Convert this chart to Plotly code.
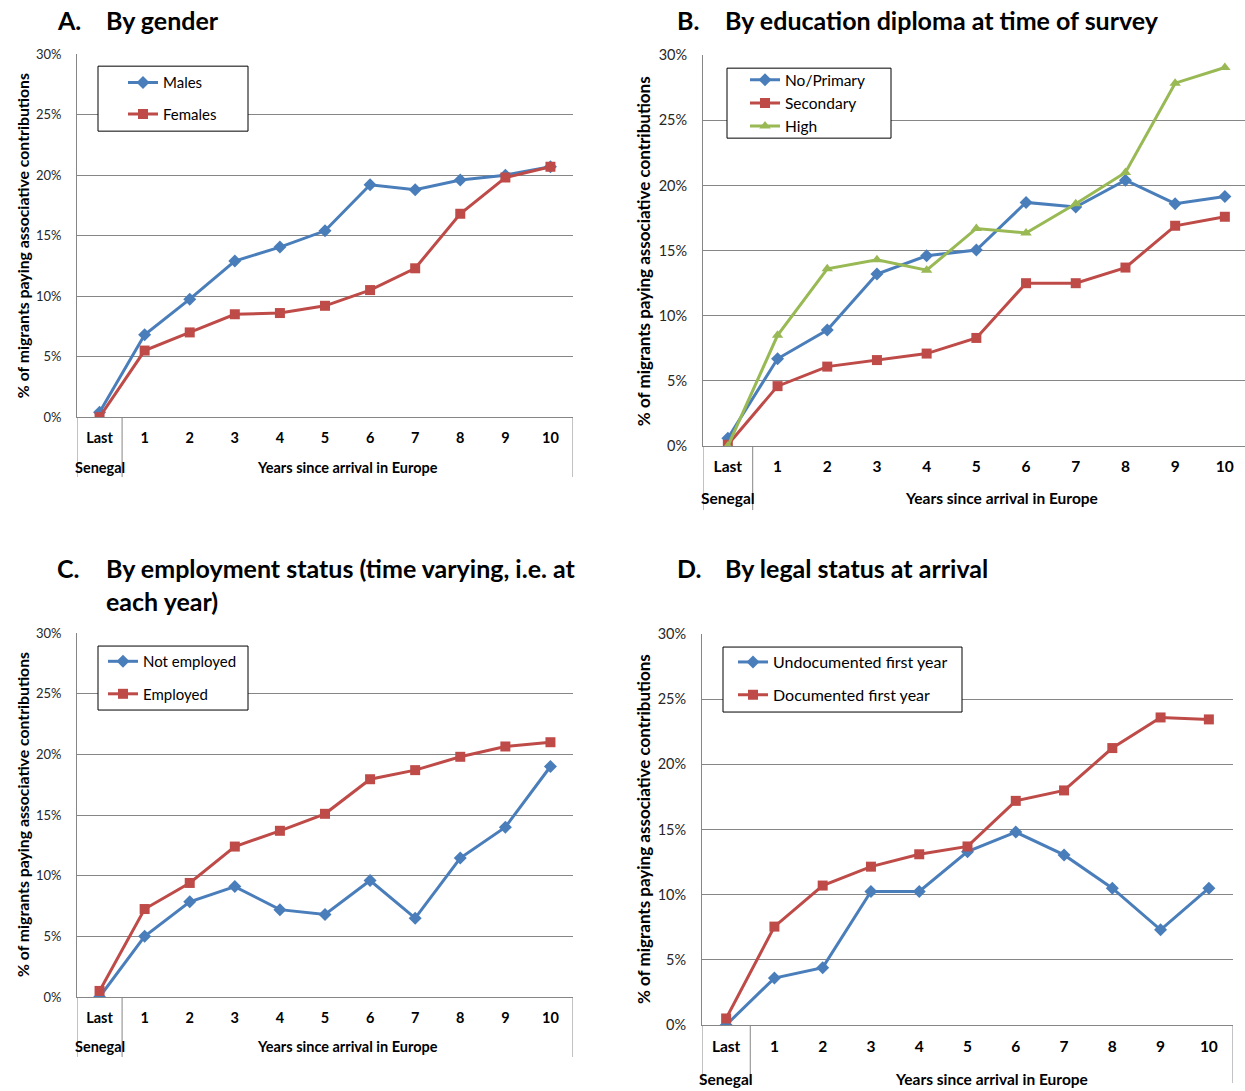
import plotly.graph_objects as go

W, H = 1245, 1091

categories = ["Last", "1", "2", "3", "4", "5", "6", "7", "8", "9", "10"]
y_ticks = [0, 0.05, 0.10, 0.15, 0.20, 0.25, 0.30]

# Panel A: by gender
males = [0.4, 6.8, 9.75, 12.9, 14.05, 15.4, 19.2, 18.8, 19.6, 20.0, 20.7]
females = [0.0, 5.5, 7.0, 8.5, 8.6, 9.2, 10.5, 12.3, 16.8, 19.8, 20.7]

# Panel B: by education
no_primary = [0.6, 6.7, 8.9, 13.2, 14.6, 15.05, 18.7, 18.35, 20.4, 18.6, 19.15]
secondary = [0.1, 4.6, 6.1, 6.6, 7.1, 8.3, 12.5, 12.5, 13.7, 16.9, 17.6]
high = [0.0, 8.5, 13.6, 14.3, 13.5, 16.7, 16.35, 18.6, 21.0, 27.85, 29.05]

# Panel C: by employment status
not_employed = [0.0, 5.0, 7.85, 9.1, 7.2, 6.8, 9.6, 6.5, 11.45, 14.0, 19.0]
employed = [0.5, 7.25, 9.4, 12.4, 13.7, 15.1, 17.95, 18.7, 19.8, 20.65, 21.0]

# Panel D: by legal status at arrival
undocumented = [0.0, 3.6, 4.4, 10.25, 10.25, 13.3, 14.8, 13.05, 10.5, 7.3, 10.5]
documented = [0.5, 7.55, 10.7, 12.15, 13.1, 13.7, 17.2, 18.0, 21.25, 23.6, 23.45]

BLUE = "#4A7EBB"
RED = "#BE4B48"
GREEN = "#98B954"
GRID = "#868686"
FONT = "Lato"

xs = list(range(len(categories)))

def px_x(p):
    return p / W

# vertical placement calibrated against the rendered output
def px_y(p):
    return 1 - ((p - 8.83) / 0.9846) / H

panels = [
    dict(key="", xd=(77, 573), yd=(54, 417), xr=(-0.5, 10.5),
         series=[("Males", males, BLUE, "diamond", 10), ("Females", females, RED, "square", 10)],
         legend=dict(box=(98, 66, 248, 131), x=123, y=66, gap=9, fs=15),
         title=("A.", ["By gender"], 55, 104, 20),
         ytitle=(22, 236, 15.8), ticky=439, row2=467, bottom=477, tfs=14.5, yfs=13),
    dict(key="2", xd=(703, 1245), yd=(55, 446), xr=(-0.5, -0.5 + 542 / 49.7),
         series=[("No/Primary", no_primary, BLUE, "diamond", 10), ("Secondary", secondary, RED, "square", 10),
                 ("High", high, GREEN, "triangle-up", 10)],
         legend=dict(box=(727, 68, 891, 138), x=745, y=63, gap=0, fs=15.5),
         title=("B.", ["By education diploma at time of survey"], 675, 723, 20),
         ytitle=(643, 251, 17), ticky=466, row2=498, bottom=510, tfs=15.5, yfs=14.5),
    dict(key="3", xd=(77, 573), yd=(633, 997), xr=(-0.5, 10.5),
         series=[("Not employed", not_employed, BLUE, "diamond", 10), ("Employed", employed, RED, "square", 10)],
         legend=dict(box=(98, 646, 248, 710), x=103, y=645, gap=10, fs=15),
         title=("C.", ["By employment status (time varying, i.e. at", "each year)"], 55, 104, 568),
         ytitle=(22, 815, 15.8), ticky=1019, row2=1047, bottom=1057, tfs=14.5, yfs=13),
    dict(key="4", xd=(702, 1233), yd=(634, 1025), xr=(-0.5, 10.5),
         series=[("Undocumented first year", undocumented, BLUE, "diamond", 10),
                 ("Documented first year", documented, RED, "square", 10)],
         legend=dict(box=(723, 647, 962, 712), x=733, y=645, gap=9, fs=16),
         title=("D.", ["By legal status at arrival"], 675, 723, 568),
         ytitle=(643, 829, 17), ticky=1046, row2=1079, bottom=1095, tfs=15.5, yfs=14.5),
]

fig = go.Figure()
shapes = []
annotations = []
layout = {}

for i, p in enumerate(panels):
    k = p["key"]
    xa = "x" + k
    ya = "y" + k
    lg = "legend" + k
    for gi, (name, vals, col, sym, ms) in enumerate(p["series"]):
        fig.add_trace(go.Scatter(
            x=xs, y=[v / 100 for v in vals], name=name, mode="lines+markers",
            line=dict(color=col, width=3),
            marker=dict(symbol=sym, size=ms, color=col),
            xaxis=xa, yaxis=ya, legend=lg, legendgroup=f"{i}_{gi}",
        ))
    axis_bottom_px = p["yd"][1]
    layout["xaxis" + k] = dict(
        domain=[px_x(p["xd"][0]), px_x(p["xd"][1])], anchor=ya,
        range=list(p["xr"]), tickmode="array", tickvals=xs, ticktext=categories,
        showgrid=False, zeroline=False, showline=True, linecolor=GRID, linewidth=1,
        ticks="outside", ticklen=p["ticky"] - axis_bottom_px - 14, tickcolor="rgba(0,0,0,0)",
        tickfont=dict(family=FONT, size=p["tfs"], color="#000000", weight="bold"),
        fixedrange=True,
    )
    layout["yaxis" + k] = dict(
        domain=[px_y(p["yd"][1]), px_y(p["yd"][0])], anchor=xa,
        range=[0, 0.30], tickmode="array", tickvals=y_ticks, tickformat=".0%",
        showgrid=True, gridcolor=GRID, gridwidth=1, zeroline=False,
        showline=True, linecolor=GRID, linewidth=1,
        ticks="outside", ticklen=12, tickcolor="rgba(0,0,0,0)",
        tickfont=dict(family=FONT, size=p["yfs"], color="#262626"),
        fixedrange=True,
    )
    # multi-level category axis separators
    ybot = max(px_y(p["bottom"]), 0)
    for xv in (-0.5, 0.5, 10.5):
        shapes.append(dict(type="line", xref=xa, yref="paper", x0=xv, x1=xv,
                           y0=px_y(axis_bottom_px), y1=ybot,
                           line=dict(color=GRID, width=1)))
    for txt, xv in (("Senegal", 0), ("Years since arrival in Europe", 5.5)):
        annotations.append(dict(xref=xa, yref="paper", x=xv, y=px_y(p["row2"]), text=txt,
                                showarrow=False, xanchor="center", yanchor="middle",
                                font=dict(family=FONT, size=p["tfs"], color="#000", weight="bold")))
    # titles
    letter, lines, lx, tx, ty = p["title"]
    annotations.append(dict(xref="paper", yref="paper", x=px_x(lx), y=px_y(ty), text=letter,
                            showarrow=False, xanchor="left", yanchor="middle",
                            font=dict(family=FONT, size=25, color="#000", weight="bold")))
    for li, line in enumerate(lines):
        annotations.append(dict(xref="paper", yref="paper", x=px_x(tx), y=px_y(ty + 33 * li), text=line,
                                showarrow=False, xanchor="left", yanchor="middle",
                                font=dict(family=FONT, size=25, color="#000", weight="bold")))
    # y-axis title
    yx, yy, ys = p["ytitle"]
    annotations.append(dict(xref="paper", yref="paper", x=px_x(yx), y=px_y(yy),
                            text="% of migrants paying associative contributions",
                            textangle=-90, showarrow=False, xanchor="center", yanchor="middle",
                            font=dict(family=FONT, size=ys, color="#000", weight="bold")))
    # legend box
    L = p["legend"]
    bx0, by0, bx1, by1 = L["box"]
    shapes.append(dict(type="rect", xref="paper", yref="paper",
                       x0=px_x(bx0), x1=px_x(bx1), y0=px_y(by1), y1=px_y(by0),
                       line=dict(color="#000", width=1), fillcolor="#FFFFFF", layer="above"))
    layout[lg] = dict(x=px_x(L["x"]), y=px_y(L["y"]), xanchor="left", yanchor="top",
                      bgcolor="rgba(0,0,0,0)", borderwidth=0,
                      font=dict(family=FONT, size=L["fs"], color="#000"),
                      tracegroupgap=L["gap"], itemwidth=30)

fig.update_layout(
    width=W, height=H, margin=dict(l=0, r=0, t=0, b=0),
    paper_bgcolor="white", plot_bgcolor="white",
    showlegend=True, shapes=shapes, annotations=annotations,
    **layout,
)

fig.write_html("out.html", config={"displayModeBar": False})
